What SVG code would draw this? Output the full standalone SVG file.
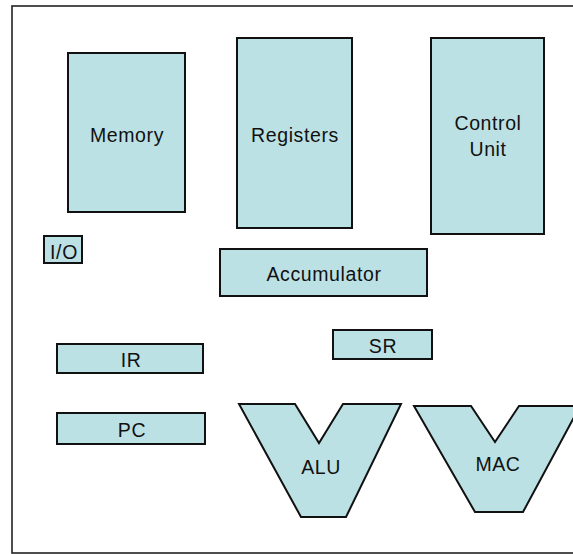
<svg xmlns="http://www.w3.org/2000/svg" width="573" height="554" viewBox="0 0 573 554">
<style>
.n{fill:#bce1e4;stroke:#111;stroke-width:2;stroke-linejoin:miter}
.t{font-family:"Liberation Sans",Arial,sans-serif;font-size:19.5px;fill:#111;text-anchor:middle;letter-spacing:0.6px}
</style>
<rect x="0" y="0" width="573" height="554" fill="#fff"/>
<rect x="12" y="6" width="575" height="547" fill="none" stroke="#222" stroke-width="1.6"/>
<g id="memory"><rect class="n" x="68" y="53" width="117" height="159"/><text class="t" x="127" y="142">Memory</text></g>
<g id="registers"><rect class="n" x="237" y="38" width="115" height="190"/><text class="t" x="295" y="142">Registers</text></g>
<g id="control-unit"><rect class="n" x="431" y="38" width="113" height="196"/><text class="t" x="488" y="130">Control</text><text class="t" x="488" y="156">Unit</text></g>
<g id="io"><rect class="n" x="44" y="236" width="38" height="27"/><text class="t" x="64" y="259">I/O</text></g>
<g id="accumulator"><rect class="n" x="220" y="249" width="207" height="47"/><text class="t" x="324" y="281">Accumulator</text></g>
<g id="ir"><rect class="n" x="57" y="344" width="146" height="29"/><text class="t" x="131" y="367">IR</text></g>
<g id="pc"><rect class="n" x="57" y="413" width="148" height="31"/><text class="t" x="132" y="437">PC</text></g>
<g id="sr"><rect class="n" x="333" y="330" width="99" height="29"/><text class="t" x="383" y="353">SR</text></g>
<g id="alu"><polygon class="n" points="239,404 295,404 319,443 343,404 401,404 346,517 301,517"/><text class="t" x="321" y="474">ALU</text></g>
<g id="mac"><polygon class="n" points="414,406 471,406 495,442 519,406 580,406 523,512 475,512"/><text class="t" x="498" y="471">MAC</text></g>
<g id="connectors"></g>
</svg>
